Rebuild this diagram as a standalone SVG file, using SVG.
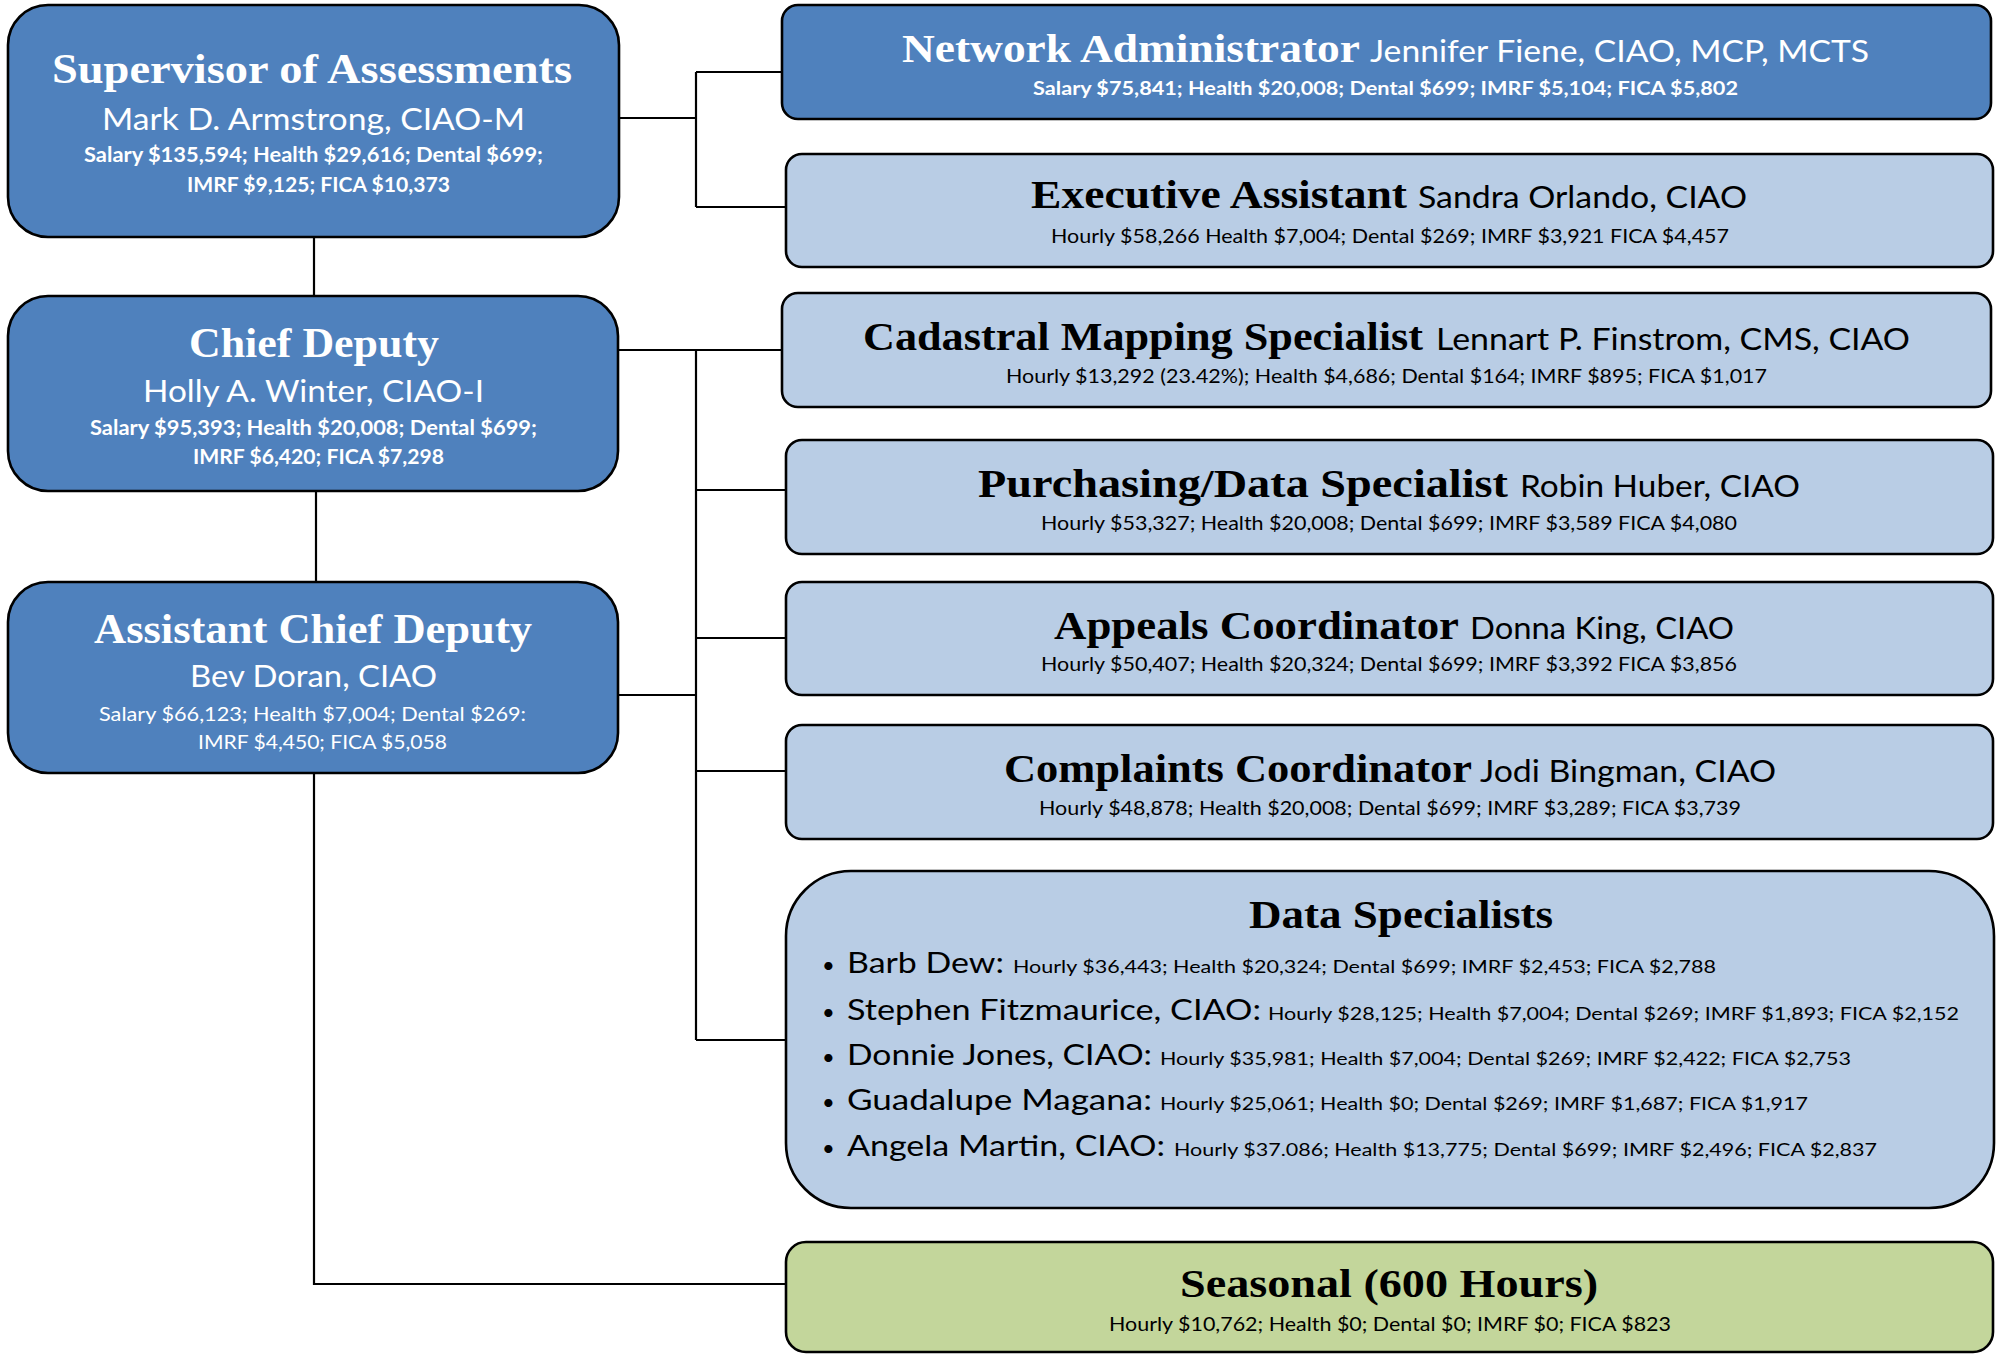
<svg xmlns="http://www.w3.org/2000/svg" width="2001" height="1355" viewBox="0 0 2001 1355">
<style>
.dark{fill:#4F81BD;stroke:#000;stroke-width:2.6}
.light{fill:#B9CDE5;stroke:#000;stroke-width:2.6}
.green{fill:#C3D69B;stroke:#000;stroke-width:2.6}
.t{font-family:"Liberation Serif","Times New Roman",serif;font-weight:bold}
.s{font-family:Lato,"Liberation Sans",Arial,sans-serif}
.b{font-weight:bold}
.w{fill:#fff}
.k{fill:#000}
.con line,.con polyline{stroke:#000;stroke-width:2.2;fill:none}
</style>
<g class="con" id="connectors">
<line x1="314" y1="237" x2="314" y2="296"/>
<line x1="316" y1="491" x2="316" y2="582"/>
<line x1="619" y1="118" x2="696" y2="118"/>
<line x1="696" y1="72" x2="696" y2="207"/>
<line x1="696" y1="72" x2="782" y2="72"/>
<line x1="696" y1="207" x2="786" y2="207"/>
<line x1="618" y1="350" x2="782" y2="350"/>
<line x1="696" y1="350" x2="696" y2="1040"/>
<line x1="696" y1="490" x2="786" y2="490"/>
<line x1="696" y1="638" x2="786" y2="638"/>
<line x1="618" y1="695" x2="696" y2="695"/>
<line x1="696" y1="771" x2="786" y2="771"/>
<line x1="696" y1="1040" x2="786" y2="1040"/>
<polyline points="314,773 314,1284 786,1284"/>
</g>
<g id="supervisor">
<rect class="dark" x="8" y="5" width="611" height="232" rx="40"/>
<text class="t w" x="52" y="83" font-size="42" textLength="520" lengthAdjust="spacingAndGlyphs">Supervisor of Assessments</text>
<text class="s w" x="102" y="130" font-size="31" textLength="423" lengthAdjust="spacingAndGlyphs">Mark D. Armstrong, CIAO-M</text>
<text class="s b w" x="84" y="162" font-size="20" textLength="459" lengthAdjust="spacingAndGlyphs">Salary $135,594; Health $29,616; Dental $699;</text>
<text class="s b w" x="187" y="192" font-size="20" textLength="263" lengthAdjust="spacingAndGlyphs">IMRF $9,125; FICA $10,373</text>
</g>
<g id="chief-deputy">
<rect class="dark" x="8" y="296" width="610" height="195" rx="40"/>
<text class="t w" x="189" y="357" font-size="42" textLength="250" lengthAdjust="spacingAndGlyphs">Chief Deputy</text>
<text class="s w" x="143" y="402" font-size="31" textLength="341" lengthAdjust="spacingAndGlyphs">Holly A. Winter, CIAO-I</text>
<text class="s b w" x="90" y="435" font-size="20" textLength="447" lengthAdjust="spacingAndGlyphs">Salary $95,393; Health $20,008; Dental $699;</text>
<text class="s b w" x="193" y="464" font-size="20" textLength="251" lengthAdjust="spacingAndGlyphs">IMRF $6,420; FICA $7,298</text>
</g>
<g id="assistant-chief-deputy">
<rect class="dark" x="8" y="582" width="610" height="191" rx="40"/>
<text class="t w" x="94" y="643" font-size="42" textLength="438" lengthAdjust="spacingAndGlyphs">Assistant Chief Deputy</text>
<text class="s w" x="190" y="687" font-size="31" textLength="247" lengthAdjust="spacingAndGlyphs">Bev Doran, CIAO</text>
<text class="s w" x="99" y="721" font-size="20" textLength="427" lengthAdjust="spacingAndGlyphs">Salary $66,123; Health $7,004; Dental $269:</text>
<text class="s w" x="198" y="749" font-size="20" textLength="249" lengthAdjust="spacingAndGlyphs">IMRF $4,450; FICA $5,058</text>
</g>
<g id="network-administrator">
<rect class="dark" x="782" y="5" width="1209" height="114" rx="16"/>
<text class="t w" x="902" y="62" font-size="40" textLength="458" lengthAdjust="spacingAndGlyphs">Network Administrator</text>
<text class="s w" x="1370" y="62" font-size="30" textLength="499" lengthAdjust="spacingAndGlyphs">Jennifer Fiene, CIAO, MCP, MCTS</text>
<text class="s b w" x="1033" y="95" font-size="19" textLength="705" lengthAdjust="spacingAndGlyphs">Salary $75,841; Health $20,008; Dental $699; IMRF $5,104; FICA $5,802</text>
</g>
<g id="executive-assistant">
<rect class="light" x="786" y="154" width="1207" height="113" rx="16"/>
<text class="t k" x="1031" y="208" font-size="40" textLength="376" lengthAdjust="spacingAndGlyphs">Executive Assistant</text>
<text class="s k" x="1418" y="208" font-size="30" textLength="329" lengthAdjust="spacingAndGlyphs">Sandra Orlando, CIAO</text>
<text class="s k" x="1051" y="243" font-size="19" textLength="678" lengthAdjust="spacingAndGlyphs">Hourly $58,266 Health $7,004; Dental $269; IMRF $3,921 FICA $4,457</text>
</g>
<g id="cadastral-mapping-specialist">
<rect class="light" x="782" y="293" width="1209" height="114" rx="16"/>
<text class="t k" x="863" y="350" font-size="40" textLength="560" lengthAdjust="spacingAndGlyphs">Cadastral Mapping Specialist</text>
<text class="s k" x="1436" y="350" font-size="30" textLength="474" lengthAdjust="spacingAndGlyphs">Lennart P. Finstrom, CMS, CIAO</text>
<text class="s k" x="1006" y="383" font-size="19" textLength="761" lengthAdjust="spacingAndGlyphs">Hourly $13,292 (23.42%); Health $4,686; Dental $164; IMRF $895; FICA $1,017</text>
</g>
<g id="purchasing-data-specialist">
<rect class="light" x="786" y="440" width="1207" height="114" rx="16"/>
<text class="t k" x="978" y="497" font-size="40" textLength="530" lengthAdjust="spacingAndGlyphs">Purchasing/Data Specialist</text>
<text class="s k" x="1520" y="497" font-size="30" textLength="280" lengthAdjust="spacingAndGlyphs">Robin Huber, CIAO</text>
<text class="s k" x="1041" y="530" font-size="19" textLength="696" lengthAdjust="spacingAndGlyphs">Hourly $53,327; Health $20,008; Dental $699; IMRF $3,589 FICA $4,080</text>
</g>
<g id="appeals-coordinator">
<rect class="light" x="786" y="582" width="1207" height="113" rx="16"/>
<text class="t k" x="1054" y="639" font-size="40" textLength="405" lengthAdjust="spacingAndGlyphs">Appeals Coordinator</text>
<text class="s k" x="1470" y="639" font-size="30" textLength="264" lengthAdjust="spacingAndGlyphs">Donna King, CIAO</text>
<text class="s k" x="1041" y="671" font-size="19" textLength="696" lengthAdjust="spacingAndGlyphs">Hourly $50,407; Health $20,324; Dental $699; IMRF $3,392 FICA $3,856</text>
</g>
<g id="complaints-coordinator">
<rect class="light" x="786" y="725" width="1207" height="114" rx="16"/>
<text class="t k" x="1004" y="782" font-size="40" textLength="468" lengthAdjust="spacingAndGlyphs">Complaints Coordinator</text>
<text class="s k" x="1480" y="782" font-size="30" textLength="296" lengthAdjust="spacingAndGlyphs">Jodi Bingman, CIAO</text>
<text class="s k" x="1039" y="815" font-size="19" textLength="702" lengthAdjust="spacingAndGlyphs">Hourly $48,878; Health $20,008; Dental $699; IMRF $3,289; FICA $3,739</text>
</g>
<g id="data-specialists">
<rect class="light" x="786" y="871" width="1208" height="337" rx="65"/>
<text class="t k" x="1249" y="928" font-size="40" textLength="304" lengthAdjust="spacingAndGlyphs">Data Specialists</text>
<g class="s k">
<text x="822" y="973" font-size="22">•</text>
<text x="847" y="973" font-size="29" textLength="157" lengthAdjust="spacingAndGlyphs">Barb Dew:</text>
<text x="1013" y="973" font-size="18" textLength="703" lengthAdjust="spacingAndGlyphs">Hourly $36,443; Health $20,324; Dental $699; IMRF $2,453; FICA $2,788</text>
<text x="822" y="1020" font-size="22">•</text>
<text x="847" y="1020" font-size="29" textLength="414" lengthAdjust="spacingAndGlyphs">Stephen Fitzmaurice, CIAO:</text>
<text x="1268" y="1020" font-size="18" textLength="691" lengthAdjust="spacingAndGlyphs">Hourly $28,125; Health $7,004; Dental $269; IMRF $1,893; FICA $2,152</text>
<text x="822" y="1065" font-size="22">•</text>
<text x="847" y="1065" font-size="29" textLength="305" lengthAdjust="spacingAndGlyphs">Donnie Jones, CIAO:</text>
<text x="1160" y="1065" font-size="18" textLength="691" lengthAdjust="spacingAndGlyphs">Hourly $35,981; Health $7,004; Dental $269; IMRF $2,422; FICA $2,753</text>
<text x="822" y="1110" font-size="22">•</text>
<text x="847" y="1110" font-size="29" textLength="305" lengthAdjust="spacingAndGlyphs">Guadalupe Magana:</text>
<text x="1160" y="1110" font-size="18" textLength="648" lengthAdjust="spacingAndGlyphs">Hourly $25,061; Health $0; Dental $269; IMRF $1,687; FICA $1,917</text>
<text x="822" y="1156" font-size="22">•</text>
<text x="847" y="1156" font-size="29" textLength="318" lengthAdjust="spacingAndGlyphs">Angela Martin, CIAO:</text>
<text x="1174" y="1156" font-size="18" textLength="703" lengthAdjust="spacingAndGlyphs">Hourly $37.086; Health $13,775; Dental $699; IMRF $2,496; FICA $2,837</text>
</g>
</g>
<g id="seasonal">
<rect class="green" x="786" y="1242" width="1207" height="110" rx="20"/>
<text class="t k" x="1180" y="1297" font-size="40" textLength="418" lengthAdjust="spacingAndGlyphs">Seasonal (600 Hours)</text>
<text class="s k" x="1109" y="1331" font-size="19" textLength="562" lengthAdjust="spacingAndGlyphs">Hourly $10,762; Health $0; Dental $0; IMRF $0; FICA $823</text>
</g>
</svg>
